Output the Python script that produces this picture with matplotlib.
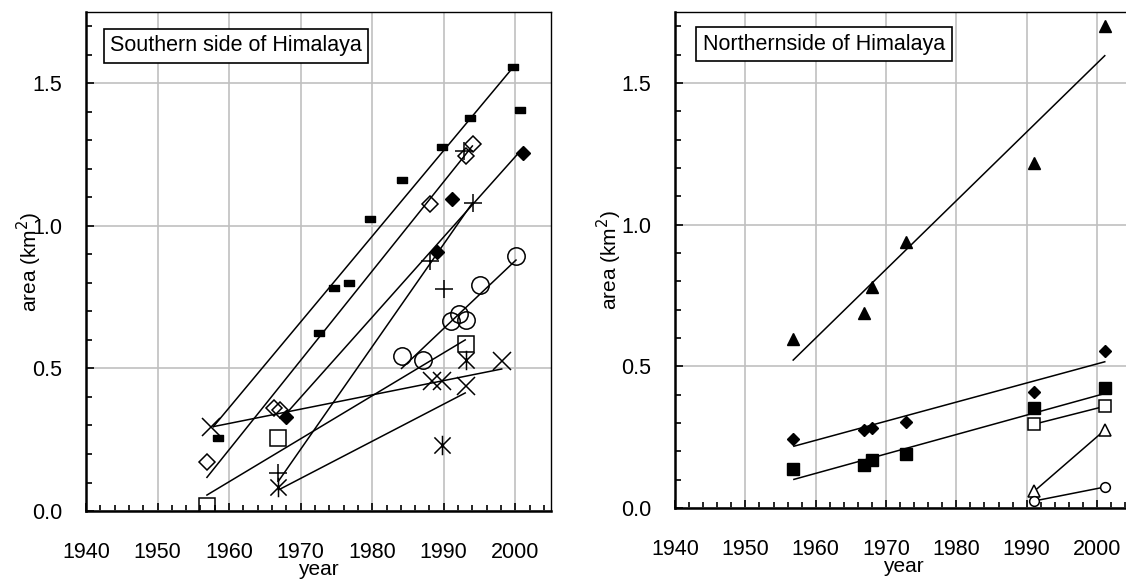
import matplotlib.pyplot as plt
from matplotlib.ticker import MultipleLocator
from matplotlib.path import Path

plt.rcParams['font.family'] = ['Liberation Sans', 'DejaVu Sans']

# ---- Southern side of Himalaya ----
dash_year = [1958.5, 1972.5, 1974.7, 1976.8, 1979.7, 1984.2, 1989.7, 1993.7, 1999.7, 2000.7]
dash_area = [0.255, 0.625, 0.783, 0.80, 1.025, 1.161, 1.275, 1.377, 1.556, 1.406]
dash_fit_year = [1957.8, 1999.7]
dash_fit_area = [0.296, 1.556]

odia_year = [1956.9, 1966.3, 1967.1, 1988.1, 1993.1, 1994.1]
odia_area = [0.173, 0.361, 0.355, 1.076, 1.245, 1.286]
odia_fit_year = [1956.9, 1994.0]
odia_fit_area = [0.118, 1.28]

fdia_year = [1968.0, 1989.1, 1991.1, 2001.1]
fdia_area = [0.331, 0.908, 1.093, 1.257]
fdia_fit_year = [1968.1, 2000.8]
fdia_fit_area = [0.345, 1.265]

plus_year = [1966.9, 1988.1, 1990.1, 1992.8, 1994.1]
plus_area = [0.133, 0.876, 0.779, 1.262, 1.079]
plus_fit_year = [1966.9, 1994.0]
plus_fit_area = [0.105, 1.08]

circ_year = [1984.1, 1987.1, 1991.0, 1992.2, 1993.1, 1995.1, 2000.1]
circ_area = [0.542, 0.531, 0.665, 0.692, 0.671, 0.794, 0.894]
circ_fit_year = [1984.1, 2000.1]
circ_fit_area = [0.50, 0.88]

sq_year = [1956.9, 1966.9, 1993.1]
sq_area = [0.018, 0.256, 0.587]
sq_fit_year = [1956.9, 1993.0]
sq_fit_area = [0.056, 0.60]

x_year = [1957.5, 1988.3, 1989.7, 1993.1, 1998.1]
x_area = [0.293, 0.455, 0.455, 0.437, 0.525]
x_fit_year = [1957.8, 1998.1]
x_fit_area = [0.296, 0.498]

ast_year = [1966.9, 1989.7, 1993.1]
ast_area = [0.085, 0.232, 0.531]
ast_fit_year = [1966.9, 1993.0]
ast_fit_area = [0.074, 0.414]

# ---- Northern side of Himalaya ----
n_year = [1956.8, 1966.9, 1968.0, 1972.9, 1991.1, 2001.1]
ntri_area = [0.595, 0.687, 0.779, 0.94, 1.217, 1.70]
ntri_fit_year = [1956.8, 2001.1]
ntri_fit_area = [0.522, 1.596]
ndia_area = [0.245, 0.277, 0.283, 0.302, 0.408, 0.554]
ndia_fit_year = [1956.9, 2001.1]
ndia_fit_area = [0.218, 0.516]
nsq_area = [0.139, 0.151, 0.169, 0.19, 0.353, 0.422]
nsq_fit_year = [1956.9, 2001.1]
nsq_fit_area = [0.101, 0.404]
n2_year = [1991.1, 2001.1]
nosq_area = [0.296, 0.359]
notri_area = [0.06, 0.275]
nocirc_area = [0.025, 0.074]

# marker shapes
rect = [(-1, -0.5), (1, -0.5), (1, 0.5), (-1, 0.5), (-1, -0.5)]
star = Path([(-1, -1), (1, 1), (-1, 1), (1, -1), (0, -1.2), (0, 1.2)],
            [Path.MOVETO, Path.LINETO] * 3)

fig = plt.figure(figsize=(11.26, 5.79), dpi=100)
ax1 = fig.add_axes([0.0764, 0.1174, 0.413, 0.862])
ax2 = fig.add_axes([0.5995, 0.1226, 0.406, 0.8566])


def style(ax):
    ax.set_xlim(1940, 2005)
    ax.set_ylim(0, 1.75)
    ax.xaxis.set_minor_locator(MultipleLocator(2))
    ax.yaxis.set_major_locator(MultipleLocator(0.5))
    ax.yaxis.set_minor_locator(MultipleLocator(0.1))
    ax.set_xticks(range(1940, 2001, 10))
    ax.yaxis.set_major_formatter(plt.FormatStrFormatter('%.1f'))
    ax.grid(True, which='major', color='#c0c0c0', lw=1.2, zorder=0)
    ax.set_axisbelow(True)
    ax.tick_params(which='both', direction='in', labelsize=15.5, width=1.2)
    ax.tick_params(axis='y', pad=17)
    ax.tick_params(axis='x', pad=22)
    ax.tick_params(which='major', length=6)
    ax.tick_params(which='minor', length=4)
    for s in ['left', 'bottom']:
        ax.spines[s].set_linewidth(1.8)
    for s in ['top', 'right']:
        ax.spines[s].set_linewidth(1.0)
    ax.set_xlabel('year', fontsize=15, labelpad=-2)
    ax.set_ylabel('area (km$^2$)', fontsize=15)


style(ax1)
style(ax2)
ax1.yaxis.set_label_coords(-0.09, 0.5)
ax2.yaxis.set_label_coords(-0.112, 0.5)

lw = 1.1
k = 'black'

# southern
ax1.plot(dash_fit_year, dash_fit_area, color=k, lw=lw)
ax1.plot(dash_year, dash_area, ls='none', marker=rect, ms=7.5, color=k)
ax1.plot(odia_fit_year, odia_fit_area, color=k, lw=lw)
ax1.plot(odia_year, odia_area, ls='none', marker='D', ms=8.5, mfc='none', mec=k, mew=1.1)
ax1.plot(fdia_fit_year, fdia_fit_area, color=k, lw=lw)
ax1.plot(fdia_year, fdia_area, ls='none', marker='D', ms=7.5, color=k)
ax1.plot(plus_fit_year, plus_fit_area, color=k, lw=lw)
ax1.plot(plus_year, plus_area, ls='none', marker='+', ms=13, mec=k, mew=1.1)
ax1.plot(circ_fit_year, circ_fit_area, color=k, lw=lw)
ax1.plot(circ_year, circ_area, ls='none', marker='o', ms=12.5, mfc='none', mec=k, mew=1.1)
ax1.plot(sq_fit_year, sq_fit_area, color=k, lw=lw)
ax1.plot(sq_year, sq_area, ls='none', marker='s', ms=12, mfc='none', mec=k, mew=1.1)
ax1.plot(x_fit_year, x_fit_area, color=k, lw=lw)
ax1.plot(x_year, x_area, ls='none', marker='x', ms=13.5, mec=k, mew=1.1)
ax1.plot(ast_fit_year, ast_fit_area, color=k, lw=lw)
ax1.plot(ast_year, ast_area, ls='none', marker=star, ms=14, mec=k, mew=1.1)

# northern
ax2.plot(ntri_fit_year, ntri_fit_area, color=k, lw=lw)
ax2.plot(n_year, ntri_area, ls='none', marker='^', ms=8.5, color=k)
ax2.plot(ndia_fit_year, ndia_fit_area, color=k, lw=lw)
ax2.plot(n_year, ndia_area, ls='none', marker='D', ms=6.5, color=k)
ax2.plot(nsq_fit_year, nsq_fit_area, color=k, lw=lw)
ax2.plot(n_year, nsq_area, ls='none', marker='s', ms=8.5, color=k)
ax2.plot(n2_year, nosq_area, color=k, lw=lw, marker='s', ms=8.5, mfc='white', mec=k, mew=1.1)
ax2.plot(n2_year, notri_area, color=k, lw=lw, marker='^', ms=8, mfc='white', mec=k, mew=1.1)
ax2.plot(n2_year, nocirc_area, color=k, lw=lw, marker='o', ms=7, mfc='white', mec=k, mew=1.1)

box = dict(boxstyle='square,pad=0.3', fc='white', ec='black', lw=1.2)
ax1.text(0.052, 0.932, 'Southern side of Himalaya', transform=ax1.transAxes,
         fontsize=15.5, ha='left', va='center', bbox=box)
ax2.text(0.061, 0.935, 'Northernside of Himalaya', transform=ax2.transAxes,
         fontsize=15.5, ha='left', va='center', bbox=box)

plt.savefig('out.png', dpi=100)
